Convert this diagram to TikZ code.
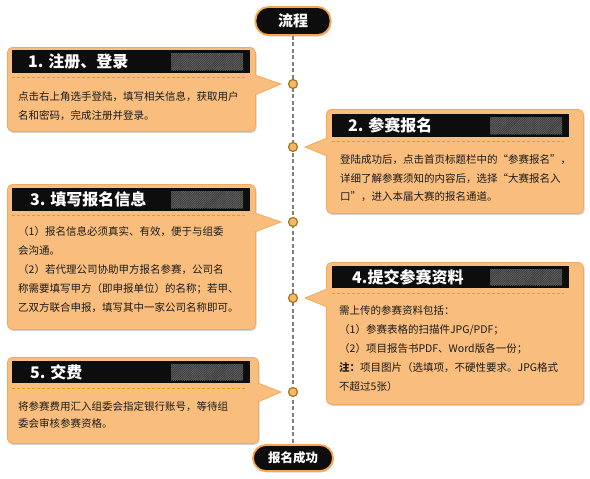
\documentclass[tikz,border=0pt]{standalone}
\usepackage{fontspec}
\setmainfont{Noto Sans CJK SC}
\usetikzlibrary{positioning, shadows, patterns.meta, calc}
\definecolor{flowfill}{HTML}{F9BE7E}
\definecolor{flowedge}{HTML}{F2A95E}
\definecolor{flowpill}{HTML}{F8A54D}
\definecolor{flowdot}{HTML}{F9B66B}
\definecolor{flowdotedge}{HTML}{9C7B1A}
\definecolor{flowgold}{HTML}{E3A200}
\definecolor{flowhatch}{HTML}{3C3C3C}
\definecolor{flowhatchline}{HTML}{6A6A6A}
\definecolor{flowtext}{HTML}{1A1A1A}
\definecolor{flowgray}{HTML}{7F7F7F}

\begin{document}
\begin{tikzpicture}[
  x=1pt, y=-1pt,
  stepbox/.style={draw=flowedge, fill=flowfill, rounded corners=5pt, line width=0.8pt,
                  anchor=north west, inner sep=0pt,
                  drop shadow={shadow xshift=1.2pt, shadow yshift=-1.6pt, opacity=0.35}},
  headbar/.style={fill=black!95, anchor=north west, inner sep=0pt},
  hatch/.style={fill=flowhatch, anchor=east, inner sep=0pt, minimum width=72pt,
                postaction={pattern={Lines[angle=45, distance=1.6pt, line width=0.5pt]},
                            pattern color=flowhatchline}},
  headtext/.style={anchor=west, text=white, inner sep=0pt,
                   font=\bfseries\fontsize{16}{16}\selectfont},
  goldline/.style={draw=flowgold, dashed, dash pattern=on 3pt off 2pt, line width=0.9pt},
  bodytext/.style={anchor=north west, align=left, inner sep=0pt, text=flowtext},
  pointer/.style={fill=flowfill, draw=flowedge, line width=0.8pt},
  pill/.style={fill=black!95, draw=flowpill, line width=1.8pt, rounded corners=13pt,
               text=white, inner sep=0pt,
               drop shadow={shadow xshift=1pt, shadow yshift=-1.5pt, opacity=0.35}},
  spine/.style={draw=flowgray, dashed, dash pattern=on 4pt off 2.5pt, line width=1.1pt},
  dot/.style={circle, fill=flowdot, draw=flowdotedge, line width=1.2pt,
              minimum size=9pt, inner sep=0pt}
]
\useasboundingbox (0,0) rectangle (590,479);

% Start and end of the flow
\node[pill, minimum width=75pt, minimum height=28pt,
      font=\bfseries\fontsize{15}{15}\selectfont] (start) at (293,21) {流程};
\node[pill, minimum width=80pt, minimum height=26pt,
      font=\bfseries\fontsize{12.5}{12.5}\selectfont] (finish) at (293,458) {报名成功};
\draw[spine] (start) -- (finish);

% Dots on the spine
\node[dot] (c1) at (293,84) {};
\node[dot] (c2) at (293,147) {};
\node[dot] (c3) at (293,222) {};
\node[dot] (c4) at (293,298) {};
\node[dot] (c5) at (293,392) {};

% Step 1 — register
\node[stepbox, minimum width=248pt, minimum height=84pt] (s1) at (7,47) {};
\filldraw[pointer] ($(s1.east |- c1)+(-1,-9)$) -- ([xshift=-7pt]c1.west) -- ($(s1.east |- c1)+(-1,11)$);
\node[headbar, minimum width=238pt, minimum height=23pt] (h1) at (12,50) {};
\node[hatch, minimum height=17pt] at ([xshift=-7pt]h1.east) {};
\node[headtext] (t1) at ([xshift=16pt]h1.west) {1. 注册、登录};
\draw[goldline] ([yshift=-4pt]h1.south west) -- ([yshift=-4pt,xshift=-5pt]h1.south east);
\node[bodytext, font=\fontsize{10.5}{18.5}\selectfont] (d1) at (18,91.5)
  {点击右上角选手登陆，填写相关信息，获取用户\\名和密码，完成注册并登录。};

% Step 2 — sign up
\node[stepbox, minimum width=257pt, minimum height=104pt] (s2) at (326,109) {};
\filldraw[pointer] ($(s2.west |- c2)+(1,-9)$) -- ([xshift=7pt]c2.east) -- ($(s2.west |- c2)+(1,9)$);
\node[headbar, minimum width=237pt, minimum height=23pt] (h2) at (332,114) {};
\node[hatch, minimum height=17pt] at ([xshift=-7pt]h2.east) {};
\node[headtext] (t2) at ([xshift=16pt]h2.west) {2. 参赛报名};
\draw[goldline] ([yshift=-4pt]h2.south west) -- ([yshift=-4pt,xshift=-5pt]h2.south east);
\node[bodytext, font=\fontsize{10.5}{18.5}\selectfont] (d2) at (340,154.5)
  {登陆成功后，点击首页标题栏中的“参赛报名”，\\详细了解参赛须知的内容后，选择“大赛报名入\\口”，进入本届大赛的报名通道。};

% Step 3 — fill in
\node[stepbox, minimum width=248pt, minimum height=145pt] (s3) at (7,184) {};
\filldraw[pointer] ($(s3.east |- c3)+(-1,-9)$) -- ([xshift=-7pt]c3.west) -- ($(s3.east |- c3)+(-1,10)$);
\node[headbar, minimum width=238pt, minimum height=23pt] (h3) at (12,188) {};
\node[hatch, minimum height=17pt] at ([xshift=-7pt]h3.east) {};
\node[headtext] (t3) at ([xshift=18pt]h3.west) {3. 填写报名信息};
\draw[goldline] ([yshift=-4pt]h3.south west) -- ([yshift=-4pt,xshift=-5pt]h3.south east);
\node[bodytext, font=\fontsize{10.5}{19}\selectfont] (d3) at (18,226.5)
  {（1）报名信息必须真实、有效，便于与组委\\会沟通。\\（2）若代理公司协助甲方报名参赛，公司名\\称需要填写甲方（即申报单位）的名称；若甲、\\乙双方联合申报，填写其中一家公司名称即可。};

% Step 4 — documents
\node[stepbox, minimum width=257pt, minimum height=142pt] (s4) at (326,262) {};
\filldraw[pointer] ($(s4.west |- c4)+(1,-9)$) -- ([xshift=7pt]c4.east) -- ($(s4.west |- c4)+(1,9)$);
\node[headbar, minimum width=237pt, minimum height=22pt] (h4) at (332,266) {};
\node[hatch, minimum height=16pt] at ([xshift=-7pt]h4.east) {};
\node[headtext] (t4) at ([xshift=20pt]h4.west) {4.提交参赛资料};
\draw[goldline] ([yshift=-5pt]h4.south west) -- ([yshift=-5pt,xshift=-5pt]h4.south east);
\node[bodytext, font=\fontsize{10.5}{19}\selectfont] (d4) at (339,305.5)
  {需上传的参赛资料包括：\\（1）参赛表格的扫描件JPG/PDF；\\（2）项目报告书PDF、Word版各一份；\\\textbf{注：}项目图片（选填项，不硬性要求。JPG格式\\不超过5张）};

% Step 5 — fee
\node[stepbox, minimum width=251pt, minimum height=86pt] (s5) at (7,357) {};
\filldraw[pointer] ($(s5.east |- c5)+(-1,-9)$) -- ([xshift=-7pt]c5.west) -- ($(s5.east |- c5)+(-1,10)$);
\node[headbar, minimum width=238pt, minimum height=22pt] (h5) at (12,361) {};
\node[hatch, minimum height=16pt] at ([xshift=-7pt]h5.east) {};
\node[headtext] (t5) at ([xshift=18pt]h5.west) {5. 交费};
\draw[goldline] ([yshift=-5pt]h5.south west) -- ([yshift=-5pt,xshift=-5pt]h5.south east);
\node[bodytext, font=\fontsize{10.5}{16.5}\selectfont] (d5) at (18,401.5)
  {将参赛费用汇入组委会指定银行账号，等待组\\委会审核参赛资格。};

\end{tikzpicture}
\end{document}
